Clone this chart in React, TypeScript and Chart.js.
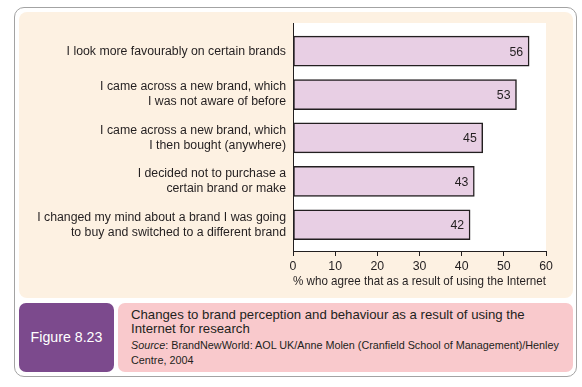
import React, { useEffect, useRef } from "react";
import { Chart, registerables } from "chart.js";

Chart.register(...registerables);

// ---- data ----
const categories: string[][] = [
  ["I look more favourably on certain brands"],
  ["I came across a new brand, which", "I was not aware of before"],
  ["I came across a new brand, which", "I then bought (anywhere)"],
  ["I decided not to purchase a", "certain brand or make"],
  ["I changed my mind about a brand I was going", "to buy and switched to a different brand"],
];
const values: number[] = [56, 53, 45, 43, 42];
const xTicks: number[] = [0, 10, 20, 30, 40, 50, 60];
const xTitle = "% who agree that as a result of using the Internet";
const figureLabel = "Figure 8.23";
const captionLines: string[] = [
  "Changes to brand perception and behaviour as a result of using the",
  "Internet for research",
];
const sourceLabel = "Source";
const sourceLines: string[] = [
  ": BrandNewWorld: AOL UK/Anne Molen (Cranfield School of Management)/Henley",
  "Centre, 2004",
];

// ---- styles ----
const FONT = '"Liberation Sans", Arial, Helvetica, sans-serif';
const INK = "#231f20";
const CREAM = "#fdf1e2";
const BAR = "#e8cfe4";
const PURPLE = "#7c4a8d";
const PINK = "#f9c9cc";
const CW = 554;
const CH = 286;

export default function App() {
  const ref = useRef<HTMLCanvasElement | null>(null);

  useEffect(() => {
    if (!ref.current) return;
    const bgPlugin = {
      id: "plotBg",
      beforeDraw(chart: any) {
        const { ctx, chartArea } = chart;
        ctx.save();
        ctx.fillStyle = "#ffffff";
        ctx.fillRect(chartArea.left, chartArea.top, chartArea.right - chartArea.left, chartArea.bottom - chartArea.top);
        ctx.restore();
      },
    };
    const valuePlugin = {
      id: "valueLabels",
      afterDatasetsDraw(chart: any) {
        const ctx = chart.ctx;
        const meta = chart.getDatasetMeta(0);
        ctx.save();
        ctx.font = `12.3px ${FONT}`;
        ctx.fillStyle = INK;
        ctx.textAlign = "right";
        ctx.textBaseline = "middle";
        meta.data.forEach((el: any, i: number) => {
          ctx.fillText(String(values[i]), el.x - 6, el.y + 1);
        });
        ctx.restore();
      },
    };
    const chart = new Chart(ref.current, {
      type: "bar",
      data: {
        datasets: [
          {
            data: values.map((v, i) => ({ x: v, y: i })) as any,
            backgroundColor: BAR,
            borderColor: INK,
            borderWidth: 1.5,
            borderSkipped: false,
            barThickness: 30,
          },
        ],
      },
      options: {
        indexAxis: "y",
        animation: false,
        responsive: false,
        events: [],
        layout: { padding: { top: 11, right: 27, left: 0, bottom: 0 } },
        plugins: { legend: { display: false }, tooltip: { enabled: false } },
        scales: {
          x: {
            type: "linear",
            position: "bottom",
            min: 0,
            max: 60,
            offset: false,
            afterBuildTicks: (s: any) => {
              s.ticks = xTicks.map((v) => ({ value: v }));
            },
            ticks: { font: { family: FONT, size: 12.3 }, color: INK, padding: 3 },
            grid: { drawOnChartArea: false, drawTicks: true, tickLength: 5, color: INK, lineWidth: 1 },
            border: { display: true, color: INK, width: 1 },
            title: {
              display: true,
              text: xTitle,
              font: { family: FONT, size: 12.6 },
              color: INK,
              padding: { top: 0, bottom: 9 },
            },
            afterFit: (s: any) => {
              s.height = 47;
            },
          },
          y: {
            type: "linear",
            position: "left",
            reverse: true,
            offset: false,
            min: -0.65,
            max: 4.606,
            afterBuildTicks: (s: any) => {
              s.ticks = categories.map((_, i) => ({ value: i }));
            },
            ticks: {
              callback: (v: any) => categories[v] ?? "",
              font: { family: FONT, size: 12.3, lineHeight: 1.22 },
              color: INK,
              padding: 7,
            },
            grid: { display: false, drawTicks: false, offset: false },
            border: { display: true, color: INK, width: 1 },
            afterFit: (s: any) => {
              s.width = 274;
              s.paddingTop = 0;
              s.paddingBottom = 0;
            },
          },
        },
      } as any,
      plugins: [bgPlugin, valuePlugin],
    });
    return () => chart.destroy();
  }, []);

  return (
    <div style={{ position: "fixed", left: 0, top: 0, width: 582, height: 387, background: "#fff", fontFamily: FONT, color: INK }}>
      <div
        style={{
          position: "absolute",
          left: 14,
          top: 7,
          width: 563,
          height: 370,
          boxSizing: "border-box",
          border: "1.5px solid #a3a3a3",
          borderRadius: 10,
        }}
      />
      <div style={{ position: "absolute", left: 19, top: 12, width: CW, height: CH, background: CREAM, borderRadius: 8 }}>
        <canvas ref={ref} width={CW} height={CH} style={{ display: "block", width: CW, height: CH }} />
      </div>
      <div
        style={{
          position: "absolute",
          left: 19,
          top: 303,
          width: 95,
          height: 69,
          background: PURPLE,
          borderRadius: 7,
          color: "#fff",
          fontSize: 14.2,
          lineHeight: "69px",
          textAlign: "center",
          whiteSpace: "nowrap",
        }}
      >
        {figureLabel}
      </div>
      <div style={{ position: "absolute", left: 118, top: 303, width: 455, height: 69, background: PINK, borderRadius: 7 }}>
        {captionLines.map((t, i) => (
          <div key={"c" + i} style={{ position: "absolute", left: 13, top: 5 + i * 14.3, fontSize: 13.2, lineHeight: "14px", whiteSpace: "nowrap" }}>
            {t}
          </div>
        ))}
        {sourceLines.map((t, i) => (
          <div key={"s" + i} style={{ position: "absolute", left: 13, top: 35 + i * 15, fontSize: 10.8, lineHeight: "14px", whiteSpace: "nowrap" }}>
            {i === 0 ? <i>{sourceLabel}</i> : null}
            {t}
          </div>
        ))}
      </div>
    </div>
  );
}
